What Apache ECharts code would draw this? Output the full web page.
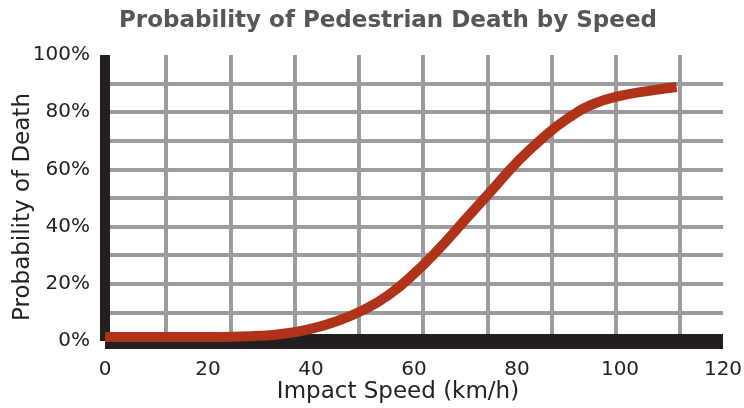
<!DOCTYPE html>
<html>
<head>
<meta charset="utf-8">
<script src="https://cdn.jsdelivr.net/npm/echarts@6/dist/echarts.min.js"></script>
<style>html,body{margin:0;padding:0;background:#fff}#c{width:744px;height:408px}</style>
</head>
<body>
<div id="c"></div>
<script>
const titleText = 'Probability of Pedestrian Death by Speed';
const xAxisName = 'Impact Speed (km/h)';
const yAxisName = 'Probability of Death';
const speeds = [0, 10, 20, 25, 30, 35, 40, 45, 50, 55, 60, 65, 70, 75, 80, 85, 90, 95, 100, 105, 111];
const deathPct = [1.4, 1.4, 1.4, 1.5, 1.8, 2.6, 4.3, 6.9, 10.7, 16, 23.5, 32.5, 42.5, 52.5, 62.5, 71, 78, 83, 85.7, 87.3, 88.8];
const xTicks = [0, 20, 40, 60, 80, 100, 120];
const yTicks = [0, 20, 40, 60, 80, 100];

const gridColor = '#9b9c9f';
const labelFont = 'DejaVu Sans';
const chart = echarts.init(document.getElementById('c'), null, {renderer: 'canvas'});
chart.setOption({
  animation: false,
  backgroundColor: '#fff',
  title: {
    text: titleText,
    left: 114, top: 5,
    textStyle: {fontFamily: labelFont, fontWeight: 'bold', fontSize: 23, color: '#555659'}
  },
  grid: [
    {left: 105, right: 21, top: 55, bottom: 67, containLabel: false, outerBoundsMode: 'none'},
    {left: 101.75, width: 623.25, top: 55, bottom: 67, containLabel: false, outerBoundsMode: 'none'}
  ],
  xAxis: [
    {
      type: 'value', gridIndex: 0, min: xTicks[0], max: xTicks[xTicks.length - 1], interval: 20, z: 3,
      name: xAxisName, nameLocation: 'middle', nameGap: 40, nameMoveOverlap: false,
      nameTextStyle: {fontFamily: labelFont, fontSize: 23, color: '#222', padding: [0, 32, 0, 0]},
      axisLine: {show: true, lineStyle: {color: '#231f20', width: 15, cap: 'butt'}},
      axisTick: {show: false},
      splitLine: {show: false},
      axisLabel: {fontFamily: labelFont, fontSize: 20, color: '#222', margin: 19}
    },
    {
      type: 'value', gridIndex: 1, min: 0, max: 9.7, interval: 1, z: 0,
      axisLine: {show: false}, axisTick: {show: false}, axisLabel: {show: false},
      splitLine: {show: true, showMinLine: false, showMaxLine: false, lineStyle: {color: gridColor, width: 4}}
    }
  ],
  yAxis: [
    {
      type: 'value', gridIndex: 0, min: yTicks[0], max: yTicks[yTicks.length - 1], interval: 20, z: 3,
      name: yAxisName, nameLocation: 'middle', nameGap: 70, nameRotate: 90, nameMoveOverlap: false,
      nameTextStyle: {fontFamily: labelFont, fontSize: 23, color: '#222', padding: [0, 18, 0, 0]},
      axisLine: {show: true, lineStyle: {color: '#231f20', width: 10, cap: 'butt'}},
      axisTick: {show: false},
      minorTick: {show: false, splitNumber: 2},
      splitLine: {show: true, showMaxLine: false, lineStyle: {color: gridColor, width: 4}},
      minorSplitLine: {show: true, lineStyle: {color: gridColor, width: 4}},
      axisLabel: {fontFamily: labelFont, fontSize: 20, color: '#222', margin: 15, formatter: v => v + '%'}
    },
    {
      type: 'value', gridIndex: 1, min: 0, max: 100, show: false,
      splitLine: {show: false}
    }
  ],
  series: [{
    type: 'line', xAxisIndex: 0, yAxisIndex: 0, z: 5,
    data: speeds.map((s, i) => [s, deathPct[i]]),
    smooth: 0.5, showSymbol: false,
    lineStyle: {color: '#b03219', width: 10, cap: 'butt'}
  }]
});
</script>
</body>
</html>
